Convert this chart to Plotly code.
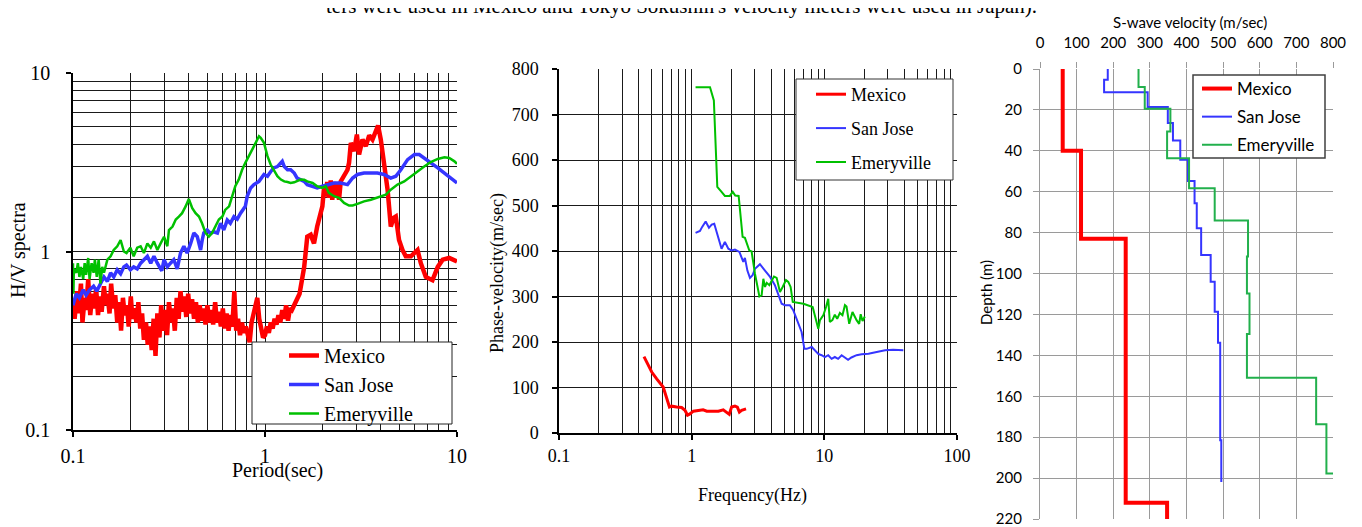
import plotly.graph_objects as go

W, H = 1362, 527
OX, OY = 8, 8  # page offset of the figure inside the html body

# ---------------- Panel 1: H/V spectra vs period ----------------
mex_T = [0.100, 0.102, 0.105, 0.107, 0.110, 0.112, 0.115, 0.117, 0.120, 0.123,
         0.126, 0.129, 0.132, 0.135, 0.138, 0.141, 0.145, 0.148, 0.151, 0.155,
         0.158, 0.162, 0.166, 0.170, 0.174, 0.178, 0.182, 0.186, 0.191, 0.195,
         0.200, 0.204, 0.209, 0.214, 0.219, 0.224, 0.229, 0.234, 0.240, 0.245,
         0.251, 0.257, 0.263, 0.269, 0.275, 0.282, 0.288, 0.295, 0.302, 0.309,
         0.316, 0.324, 0.331, 0.339, 0.347, 0.355, 0.363, 0.372, 0.380, 0.389,
         0.398, 0.407, 0.417, 0.427, 0.437, 0.447, 0.457, 0.468, 0.479, 0.490,
         0.501, 0.513, 0.525, 0.537, 0.550, 0.562, 0.575, 0.589, 0.603, 0.617,
         0.631, 0.646, 0.661, 0.676, 0.692, 0.708, 0.724, 0.741, 0.759, 0.776,
         0.794, 0.813, 0.832, 0.851, 0.871, 0.891, 0.912, 0.933, 0.955, 0.977,
         1.000, 1.023, 1.047, 1.072, 1.096, 1.122, 1.148, 1.175, 1.202, 1.230,
         1.259, 1.288, 1.318, 1.349, 1.380, 1.413, 1.445, 1.479, 1.514,
         1.60, 1.66, 1.73, 1.80, 1.87, 1.95, 1.99, 2.03, 2.07, 2.11,
         2.15, 2.20, 2.24, 2.28, 2.33, 2.38, 2.43, 2.48, 2.58, 2.69,
         2.74, 2.80, 2.91, 3.01, 3.09, 3.22, 3.35, 3.49, 3.63, 3.88,
         4.01, 4.17, 4.35, 4.52, 4.67, 4.80, 4.99, 5.20, 5.41, 5.75,
         6.23, 6.48, 6.88, 7.45, 7.94, 8.42, 9.11, 10.0]
mex_HV = [0.52, 0.42, 0.60, 0.45, 0.66, 0.40, 0.55, 0.47, 0.70, 0.44,
          0.58, 0.48, 0.62, 0.44, 0.56, 0.46, 0.64, 0.50, 0.58, 0.45,
          0.66, 0.48, 0.57, 0.40, 0.52, 0.36, 0.55, 0.44, 0.50, 0.38,
          0.56, 0.42, 0.48, 0.40, 0.52, 0.37, 0.45, 0.32, 0.40, 0.30,
          0.38, 0.28, 0.42, 0.26, 0.45, 0.33, 0.50, 0.36, 0.47, 0.34,
          0.52, 0.40, 0.48, 0.36, 0.55, 0.42, 0.60, 0.46, 0.56, 0.43,
          0.58, 0.45, 0.54, 0.42, 0.52, 0.40, 0.50, 0.41, 0.48, 0.39,
          0.50, 0.40, 0.47, 0.39, 0.52, 0.40, 0.46, 0.38, 0.48, 0.37,
          0.45, 0.36, 0.44, 0.38, 0.60, 0.36, 0.42, 0.34, 0.40, 0.35,
          0.38, 0.33, 0.31, 0.40, 0.45, 0.52, 0.55, 0.42, 0.36, 0.33,
          0.34, 0.38, 0.35, 0.40, 0.37, 0.42, 0.39, 0.44, 0.40, 0.47,
          0.42, 0.50, 0.41, 0.48, 0.47, 0.50, 0.52, 0.55, 0.58,
          0.82, 1.21, 1.24, 1.11, 1.38, 1.64, 1.79, 2.27, 2.04, 2.45,
          2.00, 2.50, 1.95, 2.45, 2.00, 2.40, 1.95, 2.47, 2.64, 2.87,
          3.14, 4.06, 3.65, 4.52, 3.50, 4.24, 3.89, 4.47, 4.24, 5.08,
          4.24, 3.14, 2.22, 1.38, 1.54, 1.57, 1.16, 1.02, 0.94, 0.94,
          1.02, 0.86, 0.72, 0.69, 0.82, 0.90, 0.92, 0.88]

sj_T = [0.100, 0.104, 0.108, 0.113, 0.117, 0.122, 0.128, 0.133, 0.139, 0.145,
        0.151, 0.157, 0.163, 0.170, 0.177, 0.184, 0.190, 0.199, 0.207, 0.216,
        0.225, 0.234, 0.244, 0.254, 0.264, 0.275, 0.290, 0.298, 0.310, 0.322,
        0.335, 0.349, 0.363, 0.378, 0.393, 0.410, 0.426, 0.444, 0.462, 0.471,
        0.480, 0.500, 0.520, 0.540, 0.565, 0.587, 0.610, 0.636, 0.660, 0.689,
        0.717, 0.746, 0.790, 0.808, 0.842, 0.876, 0.930, 0.988, 1.03, 1.07,
        1.11, 1.16, 1.21, 1.23, 1.26, 1.31, 1.36, 1.42, 1.47, 1.53,
        1.60, 1.66, 1.77, 1.87, 1.99, 2.11, 2.29, 2.48, 2.69, 2.86,
        3.03, 3.28, 3.56, 3.85, 4.17, 4.52, 4.80, 5.10, 5.53, 6.00,
        6.36, 6.75, 7.30, 7.94, 8.60, 9.29, 10.0]
sj_HV = [0.50, 0.58, 0.55, 0.61, 0.57, 0.61, 0.64, 0.60, 0.66, 0.72,
         0.68, 0.76, 0.72, 0.79, 0.75, 0.82, 0.84, 0.79, 0.82, 0.80,
         0.86, 0.90, 0.94, 0.86, 0.94, 0.86, 0.78, 0.90, 0.82, 0.86,
         0.90, 0.80, 0.98, 1.07, 0.98, 1.11, 1.27, 1.21, 1.02, 1.16,
         1.27, 1.32, 1.26, 1.29, 1.27, 1.44, 1.32, 1.50, 1.44, 1.57,
         1.52, 1.64, 1.79, 2.04, 2.27, 2.37, 2.47, 2.70, 2.64, 2.80,
         2.94, 2.99, 3.14, 3.20, 2.99, 2.87, 2.87, 2.75, 2.58, 2.53,
         2.47, 2.37, 2.32, 2.27, 2.32, 2.37, 2.42, 2.42, 2.37, 2.58,
         2.70, 2.75, 2.75, 2.75, 2.70, 2.58, 2.64, 2.87, 3.27, 3.49,
         3.49, 3.34, 3.14, 2.94, 2.75, 2.58, 2.42]

em_T = [0.100, 0.1005, 0.101, 0.104, 0.106, 0.108, 0.110, 0.113, 0.115, 0.117,
        0.120, 0.122, 0.125, 0.128, 0.130, 0.133, 0.136, 0.139, 0.142, 0.145,
        0.151, 0.157, 0.163, 0.170, 0.177, 0.184, 0.190, 0.199, 0.207, 0.216,
        0.225, 0.234, 0.244, 0.254, 0.264, 0.275, 0.286, 0.298, 0.310, 0.316,
        0.330, 0.343, 0.356, 0.370, 0.386, 0.401, 0.418, 0.435, 0.453, 0.470,
        0.490, 0.510, 0.530, 0.553, 0.575, 0.600, 0.620, 0.650, 0.675, 0.700,
        0.730, 0.760, 0.790, 0.825, 0.860, 0.894, 0.930, 0.950, 0.988, 1.03,
        1.07, 1.11, 1.16, 1.21, 1.26, 1.31, 1.36, 1.42, 1.47, 1.53,
        1.60, 1.66, 1.77, 1.87, 1.99, 2.07, 2.15, 2.29, 2.43, 2.58,
        2.74, 2.86, 3.03, 3.28, 3.56, 3.85, 4.26, 4.52, 4.90, 5.31,
        5.75, 6.23, 6.75, 7.30, 7.94, 8.60, 9.11, 9.70, 10.0]
em_HV = [0.86, 0.58, 0.80, 0.76, 0.86, 0.72, 0.82, 0.70, 0.86, 0.74,
         0.92, 0.70, 0.86, 0.76, 0.90, 0.72, 0.90, 0.66, 0.82, 0.76,
         0.90, 0.94, 1.02, 1.07, 1.16, 1.00, 0.98, 1.05, 0.94, 1.05,
         1.07, 0.98, 1.11, 1.05, 1.14, 1.02, 1.11, 1.21, 1.07, 1.32,
         1.38, 1.51, 1.57, 1.64, 1.79, 1.97, 1.75, 1.64, 1.57, 1.44,
         1.27, 1.21, 1.27, 1.38, 1.51, 1.57, 1.71, 1.79, 2.04, 2.32,
         2.53, 2.87, 3.14, 3.42, 3.72, 4.06, 4.42, 4.33, 4.06, 3.42,
         3.07, 2.87, 2.64, 2.53, 2.47, 2.45, 2.42, 2.44, 2.47, 2.53,
         2.52, 2.47, 2.42, 2.32, 2.27, 2.32, 2.13, 2.04, 2.00, 1.87,
         1.81, 1.81, 1.85, 1.91, 1.95, 2.00, 2.08, 2.22, 2.37, 2.47,
         2.64, 2.80, 2.99, 3.17, 3.30, 3.37, 3.34, 3.20, 3.10]

# ---------------- Panel 2: phase velocity vs frequency ----------------
pv_mex_f = [0.437, 0.50, 0.545, 0.61, 0.68, 0.707, 0.77, 0.84, 0.89, 0.93,
            0.97, 1.03, 1.155, 1.22, 1.30, 1.46, 1.59, 1.73, 1.83, 1.92,
            2.00, 2.12, 2.21, 2.29, 2.38, 2.57]
pv_mex_v = [168, 134, 119, 101, 57, 59, 57, 56, 50, 39,
            42, 48, 50, 51, 48, 48, 48, 51, 46, 41,
            57, 59, 57, 46, 50, 53]

pv_sj_f = [1.07, 1.155, 1.20, 1.275, 1.35, 1.415, 1.48, 1.59, 1.68, 1.78,
           1.89, 2.00, 2.12, 2.29, 2.38, 2.45, 2.52, 2.63, 2.75, 2.88,
           3.00, 3.27, 3.57, 3.90, 4.24, 4.50, 4.77, 5.05, 5.50, 5.83,
           6.36, 6.74, 7.07, 7.36, 8.04, 8.52, 9.00, 9.54, 10.1, 10.7,
           11.35, 12.0, 12.7, 13.5, 14.3, 15.1, 16.0, 17.5, 19.1, 21.5,
           24.8, 28.7, 33.0, 39.4]
pv_sj_v = [440, 444, 453, 465, 451, 458, 460, 431, 405, 420,
           405, 401, 403, 398, 383, 376, 385, 357, 341, 347,
           361, 371, 357, 343, 325, 306, 284, 281, 281, 270,
           240, 222, 185, 185, 189, 182, 174, 171, 167, 171,
           163, 167, 163, 171, 166, 161, 166, 171, 173, 174,
           178, 182, 183, 182]

pv_em_f = [1.07, 1.375, 1.47, 1.56, 1.68, 1.78, 1.94, 2.04, 2.13, 2.26,
           2.42, 2.52, 2.72, 2.83, 3.00, 3.24, 3.37, 3.47, 3.57, 3.68,
           3.85, 4.00, 4.17, 4.37, 4.63, 4.85, 5.14, 5.35, 5.57, 5.78,
           6.96, 8.17, 9.00, 9.27, 9.84, 10.3, 10.7, 11.0, 11.5, 12.0,
           12.5, 13.1, 13.7, 14.3, 14.7, 15.4, 16.3, 17.5, 18.3, 18.8,
           19.4, 20.2]
pv_em_v = [760, 760, 731, 541, 530, 521, 521, 530, 522, 521,
           431, 429, 401, 399, 350, 300, 303, 339, 321, 330,
           325, 336, 344, 341, 310, 321, 336, 332, 321, 288,
           284, 277, 229, 248, 259, 277, 295, 244, 248, 260,
           251, 264, 259, 281, 278, 240, 266, 248, 240, 261,
           246, 256]

# ---------------- Panel 3: S-wave velocity profiles ----------------
vs_mex_top = [0, 40, 83, 212]
vs_mex_v = [62, 112, 234, 347]
vs_mex_bottom = 220

vs_sj_top = [0, 5.2, 11.4, 18.6, 26.4, 35.0, 44.4, 54.7, 65.6, 77.9, 90.9, 104.0,
             118.7, 133.8, 181.5]
vs_sj_v = [185, 175, 294, 349, 363, 383, 404, 422, 428, 440, 466, 477, 486, 492, 495]
vs_sj_bottom = 201.9

vs_em_top = [0, 8.8, 19.4, 30.5, 43.6, 58.3, 74.1, 91.7, 109.7, 129.6, 151.0,
             173.7, 197.8]
vs_em_v = [269, 286, 356, 347, 407, 477, 568, 565, 572, 565, 754, 782, 802]
vs_em_bottom = 197.8

names = ["Mexico", "San Jose", "Emeryville"]
p1_ticks = [0.1, 1, 10]
p1_ticktext = ["0.1", "1", "10"]
p2_xticks = [0.1, 1, 10, 100]
p2_xticktext = ["0.1", "1", "10", "100"]


def profile(tops, vels, bottom):
    xs, ys = [], []
    bounds = list(tops[1:]) + [bottom]
    for v, t, b in zip(vels, tops, bounds):
        xs += [v, v]
        ys += [t, b]
    return xs, ys


def fx(p):
    return (p - OX) / W


def fy(p):
    return 1 - (p - OY) / H


SERIF = "Liberation Serif"
SANS = "Lato"

RED = "#ff0000"
BLUE1 = "#3535ff"
GREEN1 = "#00c000"
GREEN3 = "#22b04c"

fig = go.Figure()

for i, (xs, ys, nm, col, w) in enumerate([(mex_T, mex_HV, names[0], RED, 4.5),
                                          (sj_T, sj_HV, names[1], BLUE1, 3.5),
                                          (em_T, em_HV, names[2], GREEN1, 2.5)]):
    fig.add_trace(go.Scatter(x=xs, y=ys, mode="lines", name=nm,
                             line=dict(color=col, width=w), legendgroup="p1_%d" % i,
                             xaxis="x", yaxis="y", legend="legend"))

for i, (xs, ys, nm, col, w) in enumerate([(pv_mex_f, pv_mex_v, names[0], RED, 3),
                                          (pv_sj_f, pv_sj_v, names[1], BLUE1, 2),
                                          (pv_em_f, pv_em_v, names[2], GREEN1, 2)]):
    fig.add_trace(go.Scatter(x=xs, y=ys, mode="lines", name=nm,
                             line=dict(color=col, width=w), legendgroup="p2_%d" % i,
                             xaxis="x2", yaxis="y2", legend="legend2"))

for i, (tops, vels, bot, nm, col, w) in enumerate([
        (vs_mex_top, vs_mex_v, vs_mex_bottom, names[0], RED, 4),
        (vs_sj_top, vs_sj_v, vs_sj_bottom, names[1], BLUE1, 2),
        (vs_em_top, vs_em_v, vs_em_bottom, names[2], GREEN3, 2)]):
    xs, ys = profile(tops, vels, bot)
    fig.add_trace(go.Scatter(x=xs, y=ys, mode="lines", name=nm,
                             line=dict(color=col, width=w), legendgroup="p3_%d" % i,
                             xaxis="x3", yaxis="y3", legend="legend3"))

black_grid = dict(showgrid=True, gridcolor="#1a1a1a", gridwidth=1, zeroline=False,
                  showline=True, linecolor="black", linewidth=1.5, automargin=False,
                  ticks="outside", ticklen=5, tickcolor="black", tickwidth=1.5)

fig.update_layout(
    width=W, height=H, margin=dict(l=0, r=0, t=0, b=0, autoexpand=False),
    paper_bgcolor="white", plot_bgcolor="white", showlegend=True,
    xaxis=dict(type="log", range=[-1, 1], domain=[fx(73), fx(457)], anchor="y",
               tickmode="array", tickvals=p1_ticks, ticktext=p1_ticktext,
               minor=dict(dtick="D1", showgrid=True, gridcolor="#1a1a1a", gridwidth=1),
               tickfont=dict(family=SERIF, size=20, color="black"),
               ticklabelstandoff=2, **black_grid),
    yaxis=dict(type="log", range=[-1, 1], domain=[fy(430), fy(73)], anchor="x",
               tickmode="array", tickvals=p1_ticks, ticktext=p1_ticktext,
               minor=dict(dtick="D1", showgrid=True, gridcolor="#1a1a1a", gridwidth=1),
               tickfont=dict(family=SERIF, size=20, color="black"),
               ticklabelstandoff=12, **black_grid),
    xaxis2=dict(type="log", range=[-1, 2], domain=[fx(559), fx(957)], anchor="y2",
                tickmode="array", tickvals=p2_xticks, ticktext=p2_xticktext,
                minor=dict(dtick="D1", showgrid=True, gridcolor="#1a1a1a", gridwidth=1),
                tickfont=dict(family=SERIF, size=18, color="black"),
                ticklabelstandoff=1, **black_grid),
    yaxis2=dict(range=[0, 800], domain=[fy(433), fy(69)], anchor="x2", dtick=100,
                tickfont=dict(family=SERIF, size=18, color="black"),
                ticklabelstandoff=10, **black_grid),
    xaxis3=dict(range=[0, 800], domain=[fx(1040), fx(1333)], anchor="y3", side="top",
                dtick=100, showgrid=True, gridcolor="#9a9a9a", gridwidth=1.2,
                zeroline=False, showline=False, ticks="outside", ticklen=6,
                tickcolor="#9a9a9a", tickwidth=1.2, automargin=False,
                tickfont=dict(family=SANS, size=15, color="black"), ticklabelstandoff=8),
    yaxis3=dict(range=[220, 0], domain=[fy(519), fy(69)], anchor="x3", dtick=20,
                showgrid=True, gridcolor="#9a9a9a", gridwidth=1.2, zeroline=False,
                showline=True, linecolor="#9a9a9a", linewidth=1.2, automargin=False,
                ticks="outside", ticklen=6, tickcolor="#9a9a9a", tickwidth=1.2,
                tickfont=dict(family=SANS, size=15, color="black"), ticklabelstandoff=8),
    legend=dict(x=fx(284), y=fy(336), xanchor="left", yanchor="top",
                bgcolor="rgba(0,0,0,0)", borderwidth=0, tracegroupgap=0,
                font=dict(family=SERIF, size=20, color="black")),
    legend2=dict(x=fx(811), y=fy(76), xanchor="left", yanchor="top",
                 bgcolor="rgba(0,0,0,0)", borderwidth=0, tracegroupgap=7.5,
                 font=dict(family=SERIF, size=18, color="black")),
    legend3=dict(x=fx(1197), y=fy(71), xanchor="left", yanchor="top",
                 bgcolor="rgba(0,0,0,0)", borderwidth=0, tracegroupgap=3,
                 font=dict(family=SANS, size=17, color="black")),
)

fig.add_shape(type="rect", xref="paper", yref="paper", x0=fx(252), x1=fx(452),
              y0=fy(424), y1=fy(342), fillcolor="white",
              line=dict(color="#222222", width=1), layer="above")
fig.add_shape(type="rect", xref="paper", yref="paper", x0=fx(796), x1=fx(953),
              y0=fy(180), y1=fy(79), fillcolor="white",
              line=dict(color="#333333", width=1), layer="above")
fig.add_shape(type="rect", xref="paper", yref="paper", x0=fx(1193), x1=fx(1325),
              y0=fy(158), y1=fy(75), fillcolor="white",
              line=dict(color="#404040", width=1.5), layer="above")


def label(text, x, y, size, family, angle=0):
    fig.add_annotation(text=text, x=fx(x), y=fy(y), xref="paper", yref="paper",
                       xanchor="center", yanchor="middle", showarrow=False,
                       textangle=angle, font=dict(family=family, size=size, color="black"))


label("H/V spectra", 18, 250, 20, SERIF, -90)
label("Period(sec)", 277, 470, 20, SERIF)
label("Phase-velocity(m/sec)", 497, 273, 18, SERIF, -90)
label("Frequency(Hz)", 752, 495, 18, SERIF)
label("S-wave velocity (m/sec)", 1190, 22, 15, SANS)
label("Depth (m)", 986, 293, 15, SANS, -90)
label("ters were used in Mexico and Tokyo Sokushin's velocity meters were used in Japan).",
      681, 6, 21, SERIF)

fig.write_html("out.html")
